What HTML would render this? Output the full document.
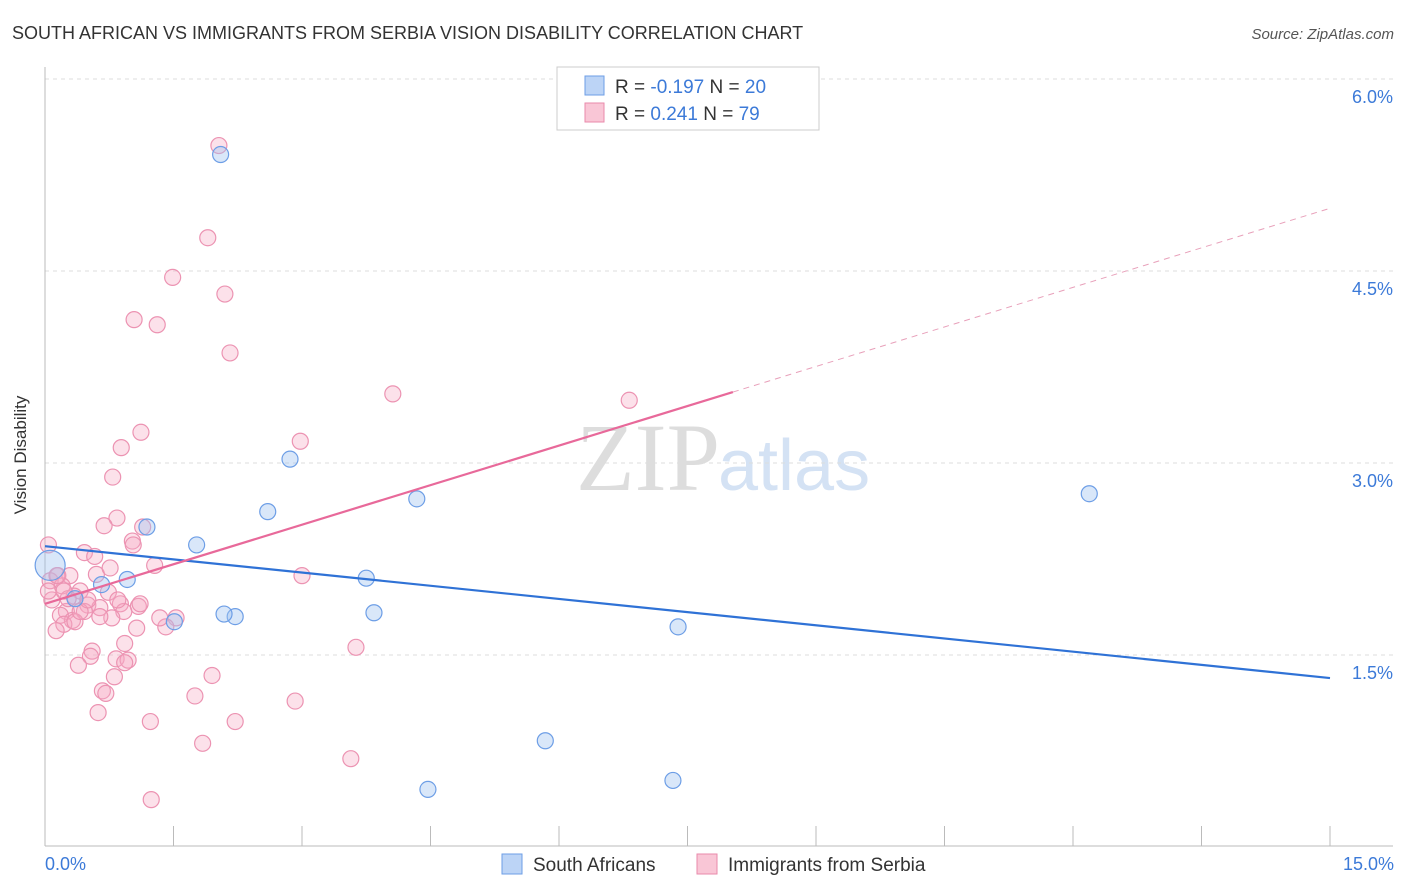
<!DOCTYPE html>
<html><head><meta charset="utf-8"><style>
body{margin:0;background:#fff;font-family:"Liberation Sans",sans-serif;}
svg{display:block}
</style></head><body>
<svg width="1406" height="892" xmlns="http://www.w3.org/2000/svg">
<text x="12" y="39" font-size="18" fill="#333">SOUTH AFRICAN VS IMMIGRANTS FROM SERBIA VISION DISABILITY CORRELATION CHART</text>
<text x="1394" y="39" font-size="15" fill="#555" font-style="italic" text-anchor="end">Source: ZipAtlas.com</text>
<text x="720" y="490" font-size="96" fill="#ddd" text-anchor="end" font-family="Liberation Serif">ZIP</text>
<text x="718" y="490" font-size="72" fill="#d4e2f4">atlas</text>
<g id="grid"></g>
<line x1="45" y1="67" x2="45" y2="846" stroke="#bbb"/>
<line x1="45" y1="846" x2="1393" y2="846" stroke="#bbb"/>
<text x="26" y="455" font-size="17" fill="#333" transform="rotate(-90 26 455)" text-anchor="middle">Vision Disability</text>
<text x="45" y="870" font-size="18" fill="#3c7ad8">0.0%</text>
<text x="1394" y="870" font-size="18" fill="#3c7ad8" text-anchor="end">15.0%</text>
<g id="ticks"></g>
<g id="pink"></g><g id="blue"></g><g id="lines"></g>
<rect x="557" y="67" width="262" height="63" fill="#fff" stroke="#ccc"/>
<rect x="585" y="76" width="19" height="19" fill="#bcd4f6" stroke="#6d9ee6"/>
<rect x="585" y="103" width="19" height="19" fill="#f9c6d6" stroke="#e98aab"/>
<text x="615" y="93" font-size="19" fill="#333">R = <tspan fill="#3c7ad8">-0.197</tspan>   N = <tspan fill="#3c7ad8">20</tspan></text>
<text x="615" y="120" font-size="19" fill="#333">R =  <tspan fill="#3c7ad8">0.241</tspan>   N = <tspan fill="#3c7ad8">79</tspan></text>
<rect x="502" y="854" width="20" height="20" fill="#bcd4f6" stroke="#6d9ee6"/>
<text x="533" y="871" font-size="19" fill="#333">South Africans</text>
<rect x="697" y="854" width="20" height="20" fill="#f9c6d6" stroke="#e98aab"/>
<text x="728" y="871" font-size="19" fill="#333">Immigrants from Serbia</text>
</svg>
<script>
const yTicks=[1.5,3.0,4.5,6.0];
const yTickLabels=["1.5%","3.0%","4.5%","6.0%"];
const blueX=[2.05,2.86,2.6,1.19,1.77,0.96,0.66,0.35,1.51,2.22,2.09,3.75,3.84,4.34,7.39,5.84,4.47,7.33,12.19,0.06];
const blueY=[5.41,3.03,2.62,2.5,2.36,2.09,2.05,1.94,1.76,1.8,1.82,2.1,1.83,2.72,1.72,0.83,0.45,0.52,2.76,2.2];
const pinkX=[2.03,1.9,1.49,2.1,1.04,1.31,2.16,4.06,6.82,2.98,1.12,0.89,0.79,0.84,0.69,1.14,1.02,1.03,0.46,0.58,1.28,0.04,3,0.15,0.29,0.6,0.76,0.06,0.2,0.41,0.34,0.74,0.08,0.5,0.88,1.09,0.25,0.64,0.92,1.53,0.18,0.32,0.78,0.46,0.22,0.35,1.41,1.07,0.93,3.63,0.55,0.53,0.83,0.97,0.93,0.39,0.81,1.95,0.67,0.71,1.75,2.92,0.62,1.23,2.22,1.84,3.57,1.24,0.14,0.04,0.27,1.11,0.64,0.41,0.85,0.13,1.34,0.5,0.22];
const pinkY=[5.48,4.76,4.45,4.32,4.12,4.08,3.86,3.54,3.49,3.17,3.24,3.12,2.89,2.57,2.51,2.5,2.39,2.36,2.3,2.27,2.2,2.36,2.12,2.12,2.12,2.13,2.18,2.08,2.04,2,1.96,1.99,1.93,1.89,1.9,1.88,1.84,1.87,1.84,1.79,1.81,1.77,1.79,1.84,1.74,1.76,1.72,1.71,1.59,1.56,1.53,1.49,1.47,1.46,1.44,1.42,1.33,1.34,1.22,1.2,1.18,1.14,1.05,0.98,0.98,0.81,0.69,0.37,2.12,2.0,1.94,1.9,1.8,1.84,1.93,1.69,1.79,1.93,2.0];
const blueFit=[2.35,1.32];
const pinkFit=[1.9,4.99];
const NS="http://www.w3.org/2000/svg";
const X=v=>45+v/15*1285, Y=v=>847-v*128;
function mk(t,a,p){const e=document.createElementNS(NS,t);for(const k in a)e.setAttribute(k,a[k]);document.getElementById(p).appendChild(e);return e;}
yTicks.forEach((t,i)=>{
 const l=mk('line',{x1:45,x2:1393,y1:Y(t),y2:Y(t),stroke:'#ddd','stroke-dasharray':'4,4'},'grid');
 
 
 const tx=mk('text',{x:1393,y:Y(t)+24,'font-size':18,fill:'#3c7ad8','text-anchor':'end'},'grid');
 tx.textContent=yTickLabels[i];
 
 
});
for(let i=1;i<=10;i++){
 const l=mk('line',{x1:X(i*1.5),x2:X(i*1.5),y1:826,y2:846,stroke:'#bbb'},'ticks');
 
 
}
pinkX.forEach((v,i)=>{
 const c=mk('circle',{cx:X(v),cy:Y(pinkY[i]),r:8,fill:'rgba(246,170,196,0.35)',stroke:'#ec93b2','stroke-width':1.2},'pink');
 
 
});
blueX.forEach((v,i)=>{
 const c=mk('circle',{cx:X(v),cy:Y(blueY[i]),r:i==19?15:8,fill:'rgba(160,196,240,0.4)',stroke:'#6d9ee6','stroke-width':1.2},'blue');
 
 
});
const bl=mk('line',{x1:X(0),y1:Y(blueFit[0]),x2:X(15),y2:Y(blueFit[1]),stroke:'#2f72d6','stroke-width':2.2},'lines');


const pAt=v=>pinkFit[0]+(pinkFit[1]-pinkFit[0])*v/15;
const pl=mk('line',{x1:X(0),y1:Y(pAt(0)),x2:X(8.03),y2:Y(pAt(8.03)),stroke:'#e8699a','stroke-width':2.2},'lines');


const pd=mk('line',{x1:X(8.03),y1:Y(pAt(8.03)),x2:X(15),y2:Y(pAt(15)),stroke:'#e8a0ba','stroke-width':1,'stroke-dasharray':'6,5'},'lines');


</script>
</body></html>
